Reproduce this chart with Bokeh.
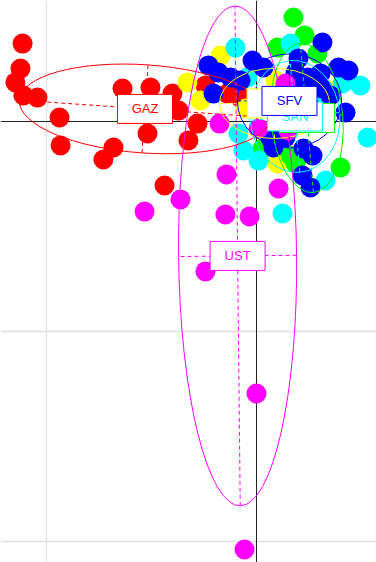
import math
from bokeh.plotting import figure
from bokeh.models import Range1d, Span, FixedTicker, Grid
from bokeh.embed import file_html
from bokeh.resources import INLINE
from bokeh.core.properties import value

# group order follows the rainbow palette of the original (levels 1..6)
group_names = ["GAZ", None, None, "SAN", "SFV", "UST"]
colors = ["#FF0000", "#FFFF00", "#00FF00", "#00FFFF", "#0000FF", "#FF00FF"]

gaz_x = [-1.114, -1.124, -1.148, -1.110, -1.043, -0.938, -0.933, -0.681, -0.729, -0.638,
         -0.505, -0.400, -0.371, -0.519, -0.281, -0.324, -0.438, -0.243, -0.138, -0.076]
gaz_y = [0.371, 0.252, 0.186, 0.124, 0.114, 0.019, -0.114, -0.124, -0.181, 0.157,
         0.162, 0.133, 0.052, -0.057, -0.010, -0.090, -0.305, 0.171, 0.133, 0.114]

yel_x = [-0.171, -0.329, -0.267, 0.090, 0.100, 0.352, -0.052]
yel_y = [0.314, 0.186, 0.100, 0.195, -0.200, 0.148, 0.062]

grn_x = [0.176, 0.229, 0.100, 0.290, 0.186, 0.400, 0.162, 0.029]
grn_y = [0.495, 0.410, 0.352, 0.324, -0.200, -0.219, -0.162, -0.129]

san_x = [-0.100, 0.162, -0.043, 0.410, 0.495, 0.529, -0.062, 0.010, 0.329, 0.124, -0.086, 0.305]
san_y = [0.352, 0.371, 0.210, 0.181, 0.171, -0.076, -0.138, -0.186, -0.281, -0.438, -0.057, 0.100]

sfv_x = [0.314, -0.019, 0.033, 0.200, 0.186, 0.243, 0.305, 0.390, 0.438, -0.229, -0.181, -0.124,
         -0.076, -0.205, 0.424, 0.081, 0.224, 0.267, 0.219, 0.257, 0.067, 0.138, 0.352, 0.138,
         0.314, 0.195]
sfv_y = [0.376, 0.290, 0.257, 0.300, 0.233, 0.210, 0.229, 0.257, 0.243, 0.267, 0.233, 0.210,
         0.195, 0.133, 0.043, -0.124, -0.129, -0.162, -0.257, -0.314, -0.081, 0.124, 0.124, -0.076,
         0.157, 0.157]

ust_x = [-0.176, -0.143, 0.105, -0.362, -0.533, -0.148, -0.033, -0.243, 0.000, -0.057, 0.138, 0.010, 0.152]
ust_y = [-0.010, -0.252, -0.319, -0.371, -0.429, -0.443, -0.452, -0.714, -1.295, -2.038, 0.181, -0.033, -0.043]

points_x = [gaz_x, yel_x, grn_x, san_x, sfv_x, ust_x]
points_y = [gaz_y, yel_y, grn_y, san_y, sfv_y, ust_y]

# ellipse (class) parameters: centre, semi-axes, angle of major axis (deg)
ell_cx = [-0.531, 0.086, 0.240, 0.183, 0.157, -0.090]
ell_cy = [0.060, 0.086, 0.017, 0.024, 0.098, -0.640]
ell_a = [0.600, 0.262, 0.357, 0.267, 0.248, 1.190]
ell_b = [0.210, 0.167, 0.171, 0.214, 0.224, 0.281]
ell_ang = [-4.0, 0.0, 95.0, 95.0, 0.0, 90.6]

grid_x = [-1]
grid_y = [-2, -1]

unit_px = 210.0
W, H = 376, 562
x0_px, y0_px = 256, 121

p = figure(width=W, height=H, output_backend="svg", toolbar_location=None,
           x_axis_location=None, y_axis_location=None,
           x_range=Range1d(-x0_px / unit_px, (W - x0_px) / unit_px),
           y_range=Range1d(-(H - y0_px) / unit_px, y0_px / unit_px),
           min_border=0)
p.outline_line_color = None
p.background_fill_color = "white"
p.border_fill_color = "white"
# drop default grids
p.center = [r for r in p.center if not isinstance(r, Grid)]

p.add_layout(Grid(dimension=0, ticker=FixedTicker(ticks=grid_x),
                  grid_line_color="#E6E6E6", grid_line_width=1.5))
p.add_layout(Grid(dimension=1, ticker=FixedTicker(ticks=grid_y),
                  grid_line_color="#E0E0E0", grid_line_width=1.5))
p.add_layout(Span(location=0, dimension="height", line_color="#222222", line_width=1, level="underlay"))
p.add_layout(Span(location=0, dimension="width", line_color="#222222", line_width=1, level="underlay"))

# points
for gx, gy, c in zip(points_x, points_y, colors):
    p.scatter(gx, gy, size=20, marker="circle", fill_color=c, line_color=None)

# ellipses and their axes
for cx, cy, a, b, ang, c in zip(ell_cx, ell_cy, ell_a, ell_b, ell_ang, colors):
    t = math.radians(ang)
    p.ellipse(x=[cx], y=[cy], width=[2 * a], height=[2 * b], angle=[t],
              fill_alpha=0, line_color=c, line_width=1)
    ux, uy = math.cos(t), math.sin(t)
    vx, vy = -math.sin(t), math.cos(t)
    p.segment(x0=[cx - a * ux, cx - b * vx], y0=[cy - a * uy, cy - b * vy],
              x1=[cx + a * ux, cx + b * vx], y1=[cy + a * uy, cy + b * vy],
              line_color=c, line_width=1, line_dash="4 3")

# labels (drawn in stacking order)
for i in [0, 5, 1, 2, 3, 4]:
    p.rect(x=[ell_cx[i]], y=[ell_cy[i]], width=55, height=29,
           width_units="screen", height_units="screen",
           fill_color="white", line_color=colors[i], line_width=1)
    if group_names[i]:
        p.text(x=[ell_cx[i]], y=[ell_cy[i]], text=[group_names[i]],
               text_align="center", text_baseline="middle",
               text_font=value("Liberation Sans"), text_font_size="13px",
               text_color=colors[i])

open("out.html", "w").write(file_html(p, INLINE))
